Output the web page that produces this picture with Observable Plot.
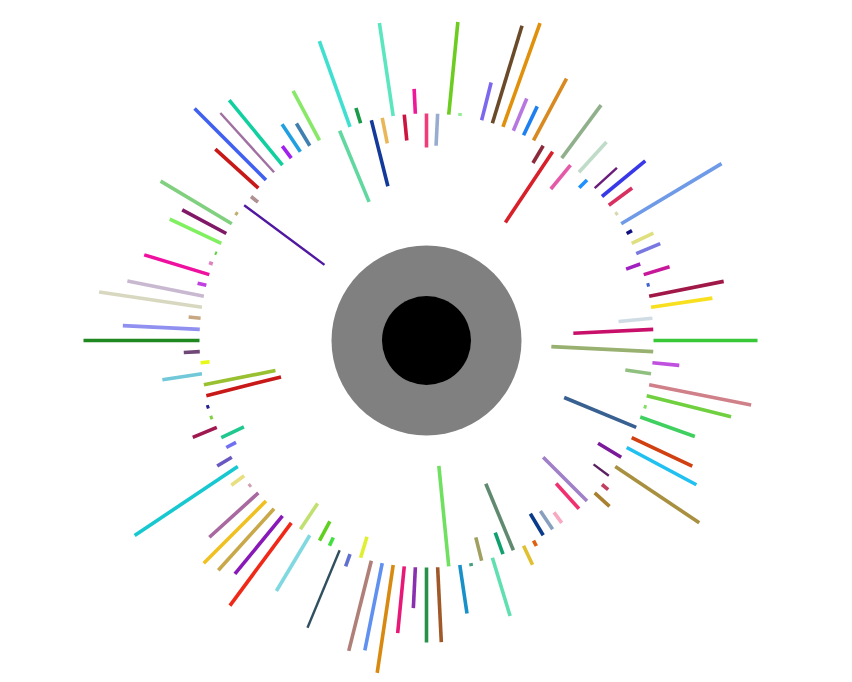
<!DOCTYPE html>
<html>
<head>
<meta charset="utf-8">
<script src="https://cdn.jsdelivr.net/npm/d3@7"></script>
<script src="https://cdn.jsdelivr.net/npm/@observablehq/plot@0.6"></script>
<style>
  body { margin: 0; background: white; }
  #chart svg { display: block; }
</style>
</head>
<body>
<div id="chart"></div>
<script>
// one spoke every 360/128 degrees, clockwise from the top
// signed length of each spoke measured from the base ring (0 = no spoke)
const values = [
  -34, -32, 93, 3, 0, 39, 102, 110, 35, 32, 70, -20, -85, 66, -31, 41,
  -11, 30, 56, 29, 3, 117, 6, 24, 26, -15, 27, 3, 76, 62, -34, -80,
  104, -102, 27, -26, 104, 87, 3, 58, -78, 67, 79, -27, 101, -19, 8, 20,
  -62, -34, 0, -13, -22, -25, 6, 21, -72, -23, 61, -24, 3, 49, -101, 75,
  75, 41, 67, 109, 89, 93, -22, 13, 84, -9, -22, 65, -31, 103, 75, 83,
  88, 66, 3, 16, 124, 17, -11, -25, 26, 3, 3, -77, -73, 40, -9, 16,
  116, 77, 12, 104, 78, 9, 68, 4, 2, 57, 50, 83, 3, -100, -9, 58,
  101, 80, 84, 15, 33, 26, 56, 0, -77, 91, 16, -68, -26, 94, -26, 25
];

const colors = [
  "#f03c7a", "#98acd0", "#6ccc20", "#90ee90", null, "#7b68ee", "#6b4a2a", "#e0900a",
  "#b678e0", "#1e7ff0", "#d88a20", "#8b2a3a", "#d8202a", "#8fb08a", "#e45aa8", "#c0dcc8",
  "#1e90ff", "#6a1a7a", "#3838e8", "#d83060", "#d8d8b0", "#6f9ae8", "#101080", "#e0e080",
  "#7878e0", "#a020c0", "#c8189a", "#4060d0", "#a01848", "#f8e020", "#d0dce4", "#c8106a",
  "#38c838", "#98b070", "#c050e0", "#90c080", "#d08088", "#70d040", "#80e060", "#40d060",
  "#386090", "#d04010", "#20c0f0", "#7a1a9a", "#a89040", "#5a2060", "#c04060", "#a88030",
  "#a080c8", "#f03070", null, "#f8a8c0", "#88a0c0", "#0a3a8a", "#e06010", "#e0c030",
  "#608a70", "#10a070", "#60e0b0", "#a0a060", "#40a080", "#1890c8", "#70e060", "#a05828",
  "#289048", "#8830b0", "#e81878", "#d88a10", "#6090f0", "#b08078", "#e0f030", "#6070d0",
  "#305060", "#40e040", "#60d020", "#80d8e0", "#c0e070", "#f02818", "#8818b8", "#c8a848",
  "#f0c020", "#a868a0", "#d0a0b0", "#e8e080", "#18c8d0", "#6858c0", "#7070f0", "#20c890",
  "#a01850", "#80d040", "#202090", "#c81818", "#98c030", "#70c8d8", "#e8f818", "#704878",
  "#208820", "#9090f0", "#c8a880", "#d8d8c0", "#c8b8d0", "#c040e0", "#f010a0", "#e080c0",
  "#60d040", "#80f060", "#801868", "#80d080", "#c0b070", "#5018a0", "#b09090", "#c81818",
  "#4060f0", "#a070a0", "#10d0a0", "#a020f0", "#20a0e0", "#4080b0", "#88e868", null,
  "#60d8a0", "#40e0d0", "#189a48", "#13399a", "#e9b75a", "#5ce6c0", "#cc1440", "#f0189a"
];

const BASE = 227;        // radius of the ring the spokes grow from
const HUB_OUTER = 95;    // grey disc
const HUB_INNER = 44.5;  // black disc
const thin = new Set([17, 45, 72, 109, 113]);

const n = values.length;
const spokes = values
  .map((v, i) => ({i, v, color: colors[i], a: (i * 2 * Math.PI) / n}))
  .filter(d => d.v !== 0);

const chart = Plot.plot({
  width: 852,
  height: 682,
  margin: 0,
  x: {domain: [-426, 426], axis: null},
  y: {domain: [-340, 342], range: [0, 682], axis: null},
  color: {type: "identity"},
  style: {background: "white"},
  marks: [
    Plot.dot([0], {x: 0, y: 0, r: HUB_OUTER, fill: "#808080"}),
    Plot.dot([0], {x: 0, y: 0, r: HUB_INNER, fill: "black"}),
    Plot.link(spokes, {
      x1: d => BASE * Math.sin(d.a),
      y1: d => -BASE * Math.cos(d.a),
      x2: d => (BASE + d.v) * Math.sin(d.a),
      y2: d => -(BASE + d.v) * Math.cos(d.a),
      stroke: "color",
      strokeWidth: d => thin.has(d.i) ? 2.4 : 3.6
    })
  ]
});

d3.select("#chart").append(() => chart);
</script>
</body>
</html>
